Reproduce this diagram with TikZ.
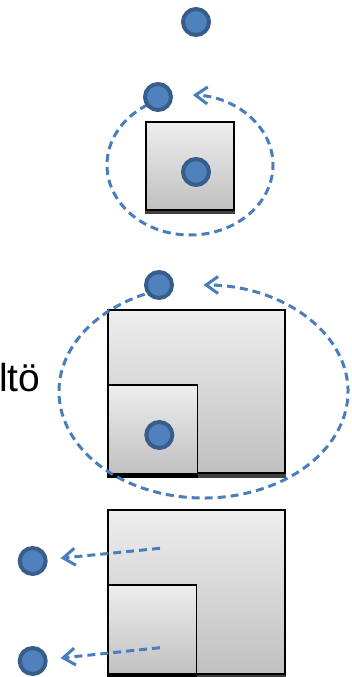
\documentclass[tikz,border=0pt]{standalone}
\usepackage{fontspec}
\setmainfont{Liberation Sans}
\usetikzlibrary{arrows.meta}
\definecolor{dotfill}{RGB}{79,129,189}
\definecolor{dotline}{RGB}{56,93,138}
\definecolor{dashcol}{RGB}{74,125,187}
\definecolor{boxtop}{RGB}{238,238,238}
\definecolor{boxbot}{RGB}{192,192,192}
\tikzset{
  dot/.style={circle, fill=dotfill, draw=dotline, line width=4pt, minimum size=26pt, inner sep=0pt},
  greybox/.style={draw=black, line width=2.2pt, top color=boxtop, bottom color=boxbot, inner sep=0pt},
  smallbox/.style={greybox, line width=1.8pt, anchor=south west},
  dashline/.style={draw=dashcol, line width=3pt, dash pattern=on 8pt off 5pt},
  dasharrow/.style={dashline, -{Straight Barb[length=12pt,width=17pt,line width=3pt]}},
  shadowblack/.style={draw=black, line width=3.5pt},
  shadowgrey/.style={draw=black!75, line width=3.5pt},
}
\begin{document}
\begin{tikzpicture}[x=1pt,y=1pt]
\useasboundingbox (0,0) rectangle (352,677);

% ---------- top section ----------
\node[greybox, minimum width=88pt, minimum height=88pt] (b1) at (190,511) {};
\draw[shadowgrey] ([yshift=-1.5pt]b1.south west) -- ([yshift=-1.5pt]b1.south east);
\coordinate (e1) at (190,512);
\draw[dasharrow] (e1) ++(121:83 and 70) arc[start angle=121, end angle=448, x radius=83, y radius=70];
\node[dot] (c1) at (196,655) {};
\node[dot] (c2) at (158,580) {};
\node[dot] (c3) at (196,505) {};

% ---------- middle section ----------
\node[greybox, minimum width=176.7pt, minimum height=163.3pt] (b2) at (196.7,285.3) {};
\node[smallbox, minimum width=89.4pt, minimum height=88.3pt] (b2s) at (b2.south west) {};
\draw[shadowgrey] ([yshift=-1.5pt]b2s.south east) -- ([yshift=-1.5pt]b2.south east);
\draw[shadowblack] ([yshift=-1.5pt]b2.south west) -- ([yshift=-1.5pt]b2s.south east);
\coordinate (e2) at (203.5,285.5);
\draw[dasharrow] (e2) ++(114:144.5 and 106.5) arc[start angle=114, end angle=450, x radius=144.5, y radius=106.5];
\node[dot] (c4) at (159,392) {};
\node[dot] (c5) at (159.3,242) {};
\node[anchor=base west, inner sep=0pt, font=\fontsize{39}{39}\selectfont] (lbl) at (-1,285) {ltö};

% ---------- bottom section ----------
\node[greybox, minimum width=176.7pt, minimum height=164pt] (b3) at (196.7,85) {};
\node[smallbox, minimum width=88.4pt, minimum height=89pt] (b3s) at (b3.south west) {};
\draw[shadowgrey] ([yshift=-1.5pt]b3s.south east) -- ([yshift=-1.5pt]b3.south east);
\draw[shadowblack] ([yshift=-1.5pt]b3.south west) -- ([yshift=-1.5pt]b3s.south east);
\node[dot] (c6) at (32.7,116) {};
\node[dot] (c7) at (32.7,16) {};
\coordinate (a1) at (160,128.7);
\coordinate (a2) at (160,29.3);
\draw[dasharrow, shorten >=13pt] (a1) -- (c6);
\draw[dasharrow, shorten >=13pt] (a2) -- (c7);
\end{tikzpicture}
\end{document}
